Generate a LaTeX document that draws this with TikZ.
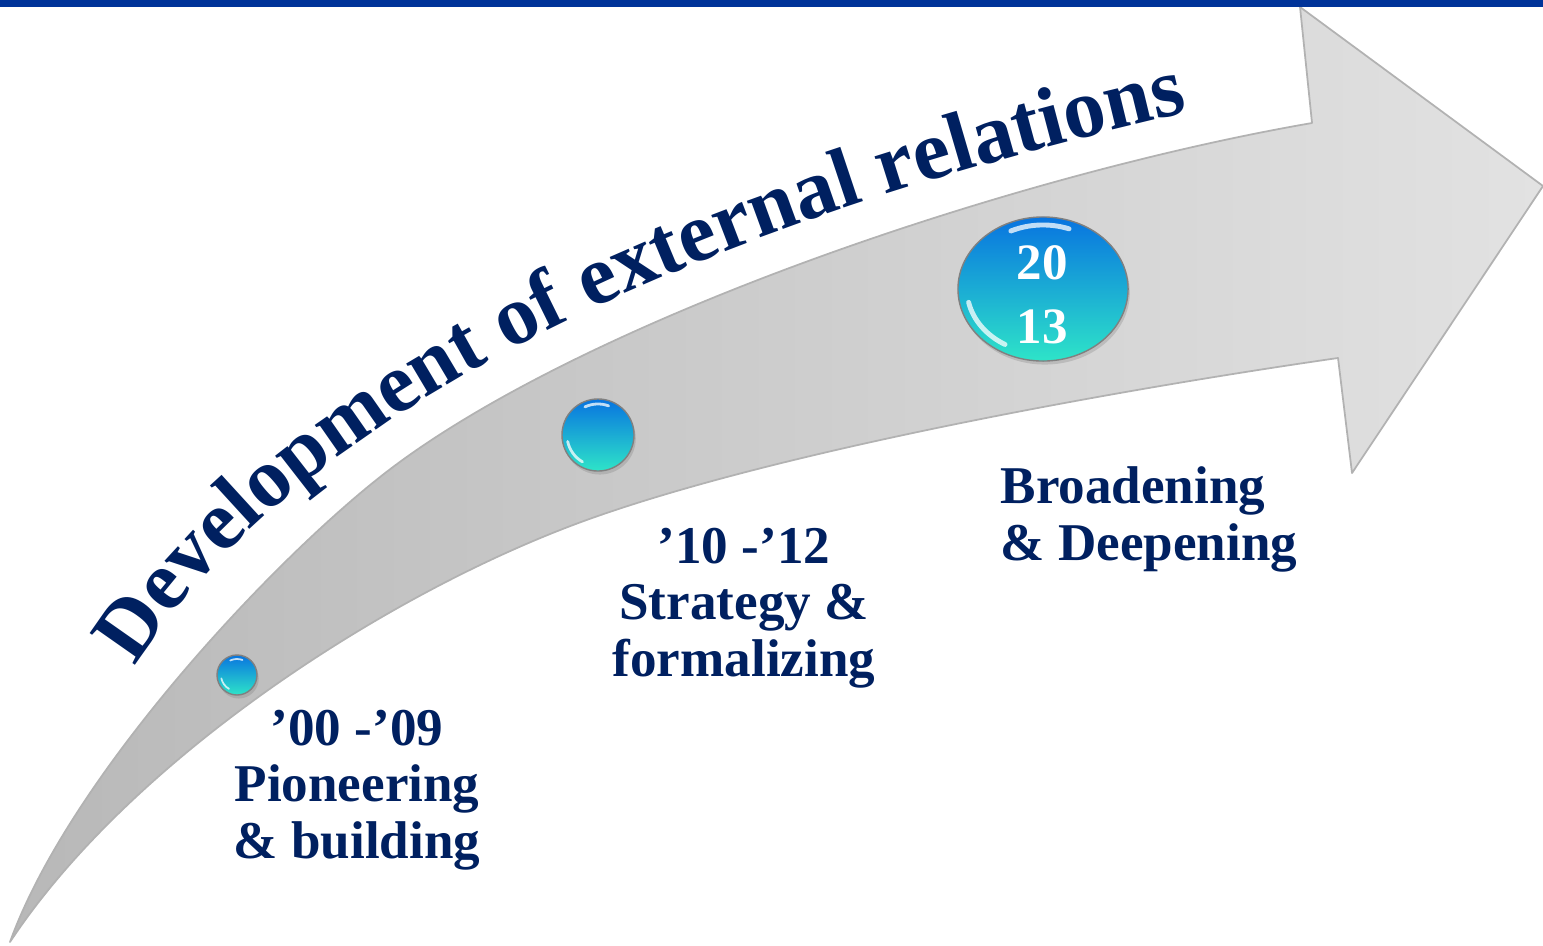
\documentclass[tikz,border=0pt]{standalone}
\usepackage{fontspec}
\setmainfont{Liberation Serif}
\usetikzlibrary{decorations.text,shapes.geometric,shadows}
\definecolor{navy}{RGB}{0,32,96}
\definecolor{barblue}{RGB}{0,51,153}
\definecolor{bubtop}{RGB}{8,116,224}
\definecolor{bubmid}{RGB}{22,168,226}
\definecolor{bubbot}{RGB}{46,228,200}
\definecolor{shafttail}{RGB}{184,184,184}
\definecolor{shafthead}{RGB}{226,226,226}
\newcommand\titlefont{\bfseries\fontsize{24}{29}\selectfont}
\tikzset{
  bubble/.style={ellipse, inner sep=0pt, draw=black!50, line width=0.4pt,
    top color=bubtop, middle color=bubmid, bottom color=bubbot,
    drop shadow={opacity=0.3, shadow xshift=0.5pt, shadow yshift=-1pt}},
  glint/.style={white, line width=#1, line cap=round, opacity=0.75},
  glint/.default=1pt,
  stagetext/.style={text=navy, font=\bfseries\fontsize{15.1}{16}\selectfont,
    inner sep=0pt, anchor=base},
}
\begin{document}
\begin{tikzpicture}[x=0.01cm, y=-0.01cm]
  \useasboundingbox (0,0) rectangle (1543,945);
  % curved arrow
  \draw [left color=shafttail, right color=shafthead, draw=black!30, line width=0.5pt, line join=round]
    (10,942) .. controls (71,773) and (281,551) .. (393,467)
    .. controls (593,317) and (1017,174) .. (1312,123)
    -- (1300,7) -- (1543,186) -- (1352,473) -- (1338,358)
    .. controls (1150,385) and (800,445) .. (595,517)
    .. controls (390,589) and (130,760) .. (10,942) -- cycle;
  % title along the arrow
  \path [decorate, decoration={text along path, text color=navy, text align=left,
      text={|\titlefont|Development of external relations}}]
    (135,667) .. controls (295,412) and (690,226) .. (1190,112) -- (1340,84);
  % bubbles
  \node [bubble, minimum width=0.4cm, minimum height=0.4cm] (b1) at (237,675) {};
  \node [bubble, minimum width=0.72cm, minimum height=0.72cm] (b2) at (598,435) {};
  \node [bubble, minimum width=1.7cm, minimum height=1.44cm] (b3) at (1043,289) {};
  \foreach \b/\rx/\ry/\w in {b1/0.16/0.16/0.5pt, b2/0.31/0.31/0.8pt, b3/0.76/0.64/1.4pt}{
    \draw [glint=\w] (\b.center) ++(115:\rx cm and \ry cm)
      arc [start angle=115, end angle=70, x radius=\rx cm, y radius=\ry cm];
    \draw [glint=\w] (\b.center) ++(192:\rx cm and \ry cm)
      arc [start angle=192, end angle=240, x radius=\rx cm, y radius=\ry cm];
  }
  \node [text=white, font=\bfseries\fontsize{14.5}{18.2}\selectfont, align=center, inner sep=0pt] (yr) at (1042,295) {20\\13};
  % stages (base = last line)
  \node [stagetext, align=center] (s1) at (357,858) {’00 -’09\\Pioneering\\\& building};
  \node [stagetext, align=center] (s2) at (744,676) {’10 -’12\\Strategy \&\\formalizing};
  \node [stagetext, align=left, anchor=base west] (s3) at (1000,560) {Broadening\\\& Deepening};
  \fill [barblue] (0,0) rectangle (1543,7);
\end{tikzpicture}
\end{document}
